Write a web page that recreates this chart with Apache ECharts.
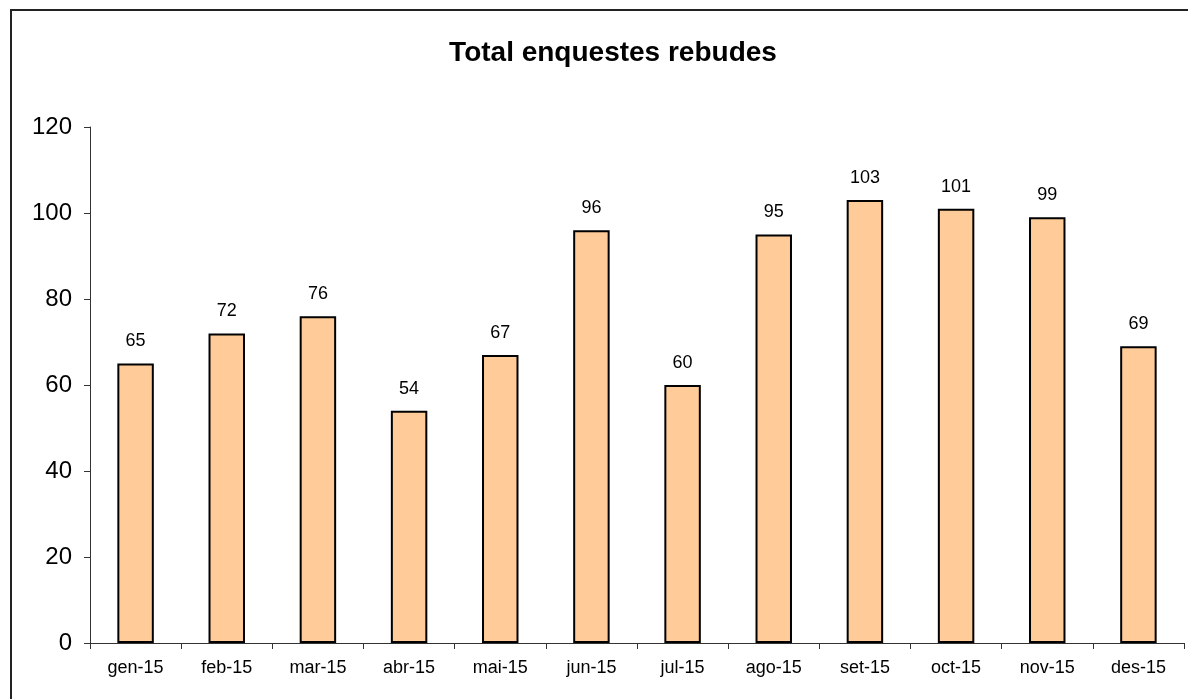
<!DOCTYPE html>
<html>
<head>
<meta charset="utf-8">
<script src="https://cdn.jsdelivr.net/npm/echarts@6/dist/echarts.min.js"></script>
<style>
html, body { margin: 0; padding: 0; background: #fff; }
#container { width: 1188px; height: 699px; }
</style>
</head>
<body>
<div id="container"></div>
<script type="text/javascript">
var months = ['gen-15', 'feb-15', 'mar-15', 'abr-15', 'mai-15', 'jun-15', 'jul-15', 'ago-15', 'set-15', 'oct-15', 'nov-15', 'des-15'];
var enquestes = [65, 72, 76, 54, 67, 96, 60, 95, 103, 101, 99, 69];
var yMin = 0, yMax = 120, yStep = 20;

var dom = document.getElementById("container");
var myChart = echarts.init(dom);
var option = {
    animation: false,
    textStyle: { fontFamily: 'Liberation Sans, Arial, sans-serif' },
    title: {
        text: 'Total enquestes rebudes',
        left: 608,
        textAlign: 'center',
        top: 34,
        textStyle: { fontSize: 28, fontWeight: 'bold', color: '#000', fontFamily: 'Liberation Sans, Arial, sans-serif' }
    },
    graphic: [{
        type: 'rect',
        shape: { x: 11, y: 10, width: 1300, height: 800 },
        style: { fill: null, stroke: '#222', lineWidth: 2 }
    }],
    grid: { left: 90, right: 4, top: 127, bottom: 56 },
    xAxis: {
        type: 'category',
        data: months,
        axisLine: { lineStyle: { color: '#333', width: 1 } },
        axisTick: { show: true, length: 6, lineStyle: { color: '#333' } },
        axisLabel: { color: '#000', fontSize: 18, margin: 16 }
    },
    yAxis: {
        type: 'value',
        min: yMin, max: yMax, interval: yStep,
        splitLine: { show: false },
        axisLine: { show: true, lineStyle: { color: '#333', width: 1 } },
        axisTick: { show: true, length: 6, lineStyle: { color: '#333' } },
        axisLabel: { color: '#000', fontSize: 24, margin: 18 }
    },
    series: [{
        name: 'Total enquestes rebudes',
        type: 'bar',
        data: enquestes,
        barWidth: '40%',
        itemStyle: { color: '#FFCC99', borderColor: '#000', borderWidth: 2 },
        label: { show: true, position: 'top', distance: 13, color: '#000', fontSize: 18 }
    }]
};
myChart.setOption(option, true);
</script>
</body>
</html>
